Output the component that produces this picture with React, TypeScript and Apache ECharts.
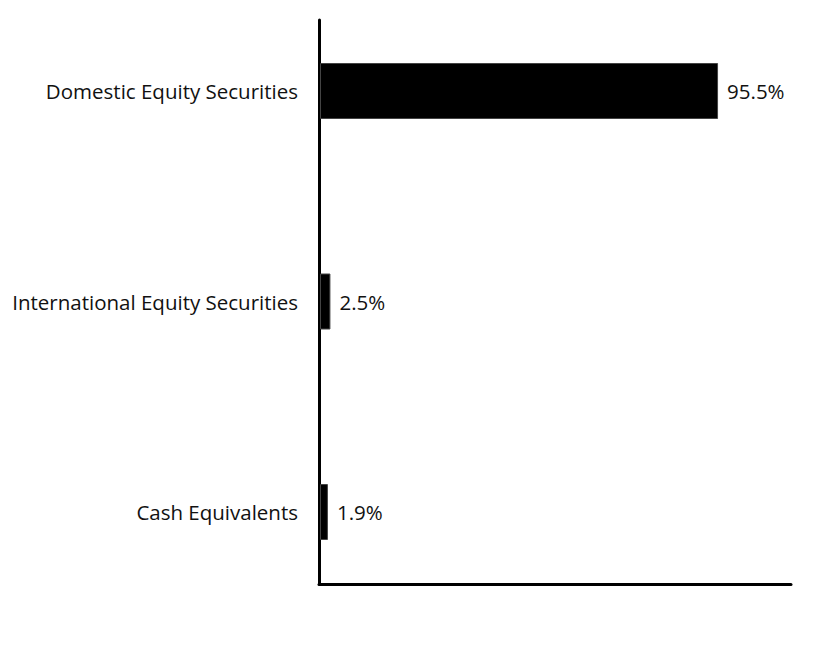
import React, { useRef, useEffect } from 'react'
import * as echarts from 'echarts'

// 资产配置
const categories = ['Domestic Equity Securities', 'International Equity Securities', 'Cash Equivalents']
const values = [95.5, 2.5, 1.9]
const xMax = 113

const App: React.FC = () => {
  const chartRef = useRef<HTMLDivElement>(null)

  useEffect(() => {
    if (!chartRef.current) return
    document.body.style.margin = '0'
    const chart = echarts.init(chartRef.current, undefined, { renderer: 'svg' })

    const font = '"Open Sans", "Noto Sans", sans-serif'

    chart.setOption({
      animation: false,
      backgroundColor: '#ffffff',
      grid: [
        // 柱子所在网格（类目落在刻度上）
        { left: 320, right: 37, top: 91, bottom: 136 },
        // 仅用于画坐标轴线
        { left: 319, right: 37, top: 20, bottom: 64 },
      ],
      xAxis: [
        {
          gridIndex: 0,
          type: 'value',
          min: 0,
          max: xMax,
          axisLine: { show: false },
          axisTick: { show: false },
          axisLabel: { show: false },
          splitLine: { show: false },
        },
        {
          gridIndex: 1,
          type: 'value',
          min: 0,
          max: 1,
          axisLine: { show: true, lineStyle: { color: '#000', width: 3 } },
          axisTick: { show: false },
          axisLabel: { show: false },
          splitLine: { show: false },
        },
      ],
      yAxis: [
        {
          gridIndex: 0,
          type: 'category',
          data: categories,
          inverse: true,
          boundaryGap: false,
          axisLine: { show: false },
          axisTick: { show: false },
          axisLabel: {
            margin: 22,
            color: '#111',
            fontSize: 20.5,
            fontFamily: font,
          },
          splitLine: { show: false },
        },
        {
          gridIndex: 1,
          type: 'value',
          min: 0,
          max: 1,
          axisLine: { show: true, lineStyle: { color: '#000', width: 3 } },
          axisTick: { show: false },
          axisLabel: { show: false },
          splitLine: { show: false },
        },
      ],
      series: [
        {
          type: 'bar',
          xAxisIndex: 0,
          yAxisIndex: 0,
          data: values,
          barWidth: 56,
          itemStyle: { color: '#000', borderColor: '#444', borderWidth: 1 },
          label: {
            show: true,
            position: 'right',
            distance: 9,
            color: '#111',
            fontSize: 20.5,
            fontFamily: font,
            formatter: (p: any) => `${p.value}%`,
          },
        },
      ],
    })

    return () => {
      chart.dispose()
    }
  }, [])

  return <div ref={chartRef} style={{ width: '828px', height: '648px' }} />
}

export default App
